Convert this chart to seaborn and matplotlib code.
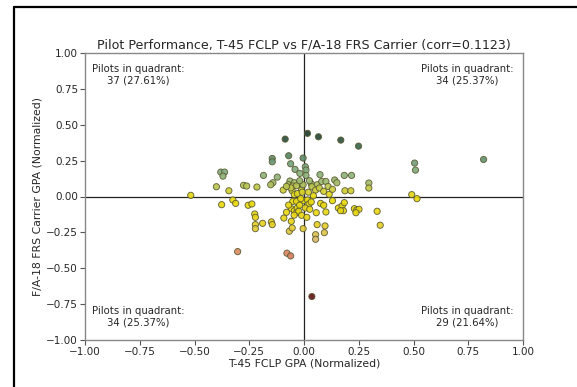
import matplotlib
matplotlib.use("Agg")
import matplotlib.pyplot as plt
import seaborn as sns
import pandas as pd
from matplotlib.colors import LinearSegmentedColormap
from matplotlib.lines import Line2D

# T-45 FCLP GPA (normalized) and F/A-18 FRS carrier GPA (normalized)
t45 = [
    # upper-left
    -0.086, -0.07, -0.145, -0.145, -0.061, -0.041, -0.019, -0.38, -0.363, -0.37,
    -0.185, -0.122, -0.142, -0.152, -0.064, -0.071, -0.044, -0.018, -0.517, -0.40,
    -0.343, -0.276, -0.262, -0.215, -0.095, -0.051, -0.034, -0.054, -0.044, -0.011,
    -0.004, -0.004, -0.03, -0.06, -0.02, -0.08, -0.008,
    # upper-right
    0.016, 0.066, 0.168, 0.249, 0.82, 0.505, 0.509, 0.006, 0.009, 0.009,
    0.073, 0.033, 0.06, 0.081, 0.10, 0.14, 0.15, 0.184, 0.217, 0.296,
    0.296, 0.036, 0.053, 0.07, 0.09, 0.115, 0.187, 0.214, 0.492, 0.043,
    0.02, 0.11, 0.025, 0.13,
    # lower-left
    -0.376, -0.325, -0.312, -0.255, -0.238, -0.225, -0.222, -0.222, -0.222, -0.189,
    -0.149, -0.145, -0.092, -0.303, -0.078, -0.061, -0.067, -0.054, -0.058, -0.051,
    -0.034, -0.058, -0.044, -0.031, -0.034, -0.024, -0.011, -0.004, -0.003, -0.07,
    -0.02, -0.045, -0.015, -0.08,
    # lower-right
    0.516, 0.016, 0.023, 0.033, 0.006, 0.013, 0.026, 0.06, 0.076, 0.09,
    0.056, 0.096, 0.13, 0.10, 0.157, 0.174, 0.18, 0.167, 0.184, 0.23,
    0.241, 0.251, 0.237, 0.334, 0.348, 0.053, 0.053, 0.093, 0.036,
]
frs = [
    0.40, 0.284, 0.265, 0.242, 0.228, 0.189, 0.161, 0.17, 0.17, 0.142,
    0.147, 0.135, 0.096, 0.082, 0.108, 0.082, 0.096, 0.091, 0.008, 0.068,
    0.04, 0.078, 0.073, 0.066, 0.045, 0.073, 0.075, 0.04, 0.013, 0.045,
    0.268, 0.082, 0.02, 0.06, 0.11, 0.07, 0.03,
    0.44, 0.416, 0.393, 0.351, 0.258, 0.233, 0.184, 0.207, 0.184, 0.147,
    0.152, 0.089, 0.082, 0.105, 0.105, 0.115, 0.096, 0.147, 0.147, 0.094,
    0.059, 0.068, 0.045, 0.059, 0.036, 0.015, 0.04, 0.04, 0.013, 0.005,
    0.03, 0.07, 0.11, 0.05,
    -0.057, -0.024, -0.048, -0.061, -0.052, -0.122, -0.145, -0.196, -0.224, -0.187,
    -0.177, -0.196, -0.15, -0.384, -0.395, -0.414, -0.242, -0.219, -0.173, -0.034,
    -0.034, -0.085, -0.099, -0.08, -0.113, -0.103, -0.131, -0.224, -0.029, -0.06,
    -0.06, -0.13, -0.015, -0.11,
    -0.015, -0.024, -0.052, -0.038, -0.08, -0.145, -0.089, -0.196, -0.048, -0.061,
    -0.113, -0.205, -0.029, -0.108, -0.08, -0.066, -0.099, -0.099, -0.043, -0.085,
    -0.094, -0.089, -0.113, -0.103, -0.20, -0.266, -0.298, -0.252, -0.697,
]

quad_labels = ["Pilots in quadrant:\n37 (27.61%)", "Pilots in quadrant:\n34 (25.37%)",
               "Pilots in quadrant:\n34 (25.37%)", "Pilots in quadrant:\n29 (21.64%)"]
title = "Pilot Performance, T-45 FCLP vs F/A-18 FRS Carrier (corr=0.1123)"
ticks = [-1.00, -0.75, -0.50, -0.25, 0.00, 0.25, 0.50, 0.75, 1.00]

df = pd.DataFrame({"x": t45, "y": frs})

sns.set_style("white")
plt.rcParams["font.family"] = ["DejaVu Sans"]

vmin, vmax = -0.72, 0.45
stops = [(-0.72, "#5a0a14"), (-0.40, "#dc8462"), (-0.30, "#d8b868"), (-0.18, "#e8d41a"),
         (0.00, "#eada0a"), (0.05, "#cccc3a"), (0.10, "#a0bc70"), (0.16, "#88b080"),
         (0.23, "#74a07e"), (0.30, "#4f7e62"), (0.45, "#1c3a2c")]
cmap = LinearSegmentedColormap.from_list(
    "perf", [((v - vmin) / (vmax - vmin), c) for v, c in stops])

fig = plt.figure(figsize=(5.77, 3.87), dpi=100)
ax = fig.add_axes([85 / 577, 1 - 340 / 387, 438 / 577, 287 / 387])

ax.axhline(0, color="#222222", lw=0.9, zorder=1)
ax.axvline(0, color="#222222", lw=0.9, zorder=1)

sns.scatterplot(data=df, x="x", y="y", hue="y", palette=cmap, hue_norm=(vmin, vmax),
                s=20, edgecolor="#5a5a30", linewidth=0.65, alpha=0.92, legend=False,
                ax=ax, zorder=3)

ax.set_xlim(-1, 1)
ax.set_ylim(-1, 1)
ax.set_xticks(ticks)
ax.set_yticks(ticks)
ax.set_xticklabels([f"{t:.2f}".replace("-", "\u2212") for t in ticks])
ax.set_yticklabels([f"{t:.2f}".replace("-", "\u2212") for t in ticks])
ax.tick_params(axis="both", which="both", direction="out", length=3.5, width=0.8,
               color="#555555", labelsize=7.5, pad=1.5, bottom=True, left=True)
for sp in ax.spines.values():
    sp.set_color("#888888")
    sp.set_linewidth(1.0)

ax.set_xlabel("T-45 FCLP GPA (Normalized)", fontsize=7.8, labelpad=1)
ax.set_ylabel("F/A-18 FRS Carrier GPA (Normalized)", fontsize=7.8, labelpad=3)
ax.set_title(title, fontsize=9.1, pad=3)

pos = [(-0.755, 0.85), (0.745, 0.85), (-0.755, -0.84), (0.745, -0.84)]
for (px, py), lab in zip(pos, quad_labels):
    ax.text(px, py, lab, ha="center", va="center", fontsize=7.3, linespacing=1.15)

# outer frame of the screenshot
fig.add_artist(Line2D([14 / 577, 14 / 577], [0, 1 - 7 / 387], transform=fig.transFigure,
                      color="black", lw=1.6))
fig.add_artist(Line2D([14 / 577, 1], [1 - 7 / 387, 1 - 7 / 387], transform=fig.transFigure,
                      color="black", lw=1.6))

fig.savefig("out.png", dpi=100)
